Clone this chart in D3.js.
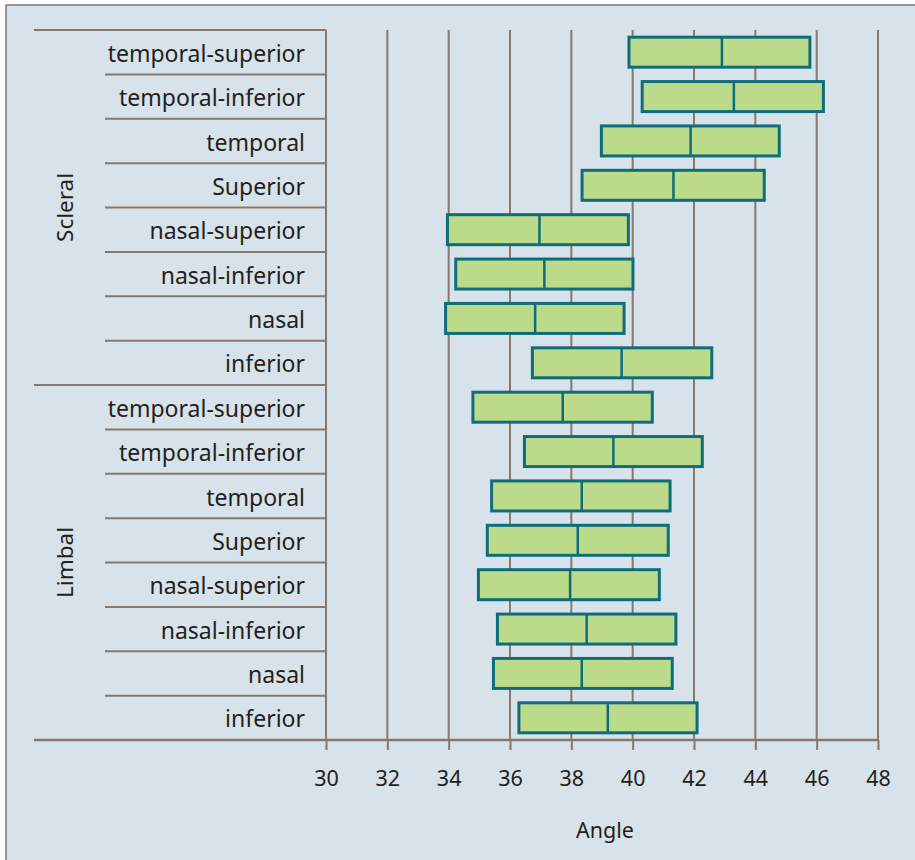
<!DOCTYPE html>
<html>
<head>
<meta charset="utf-8">
<script src="https://cdn.jsdelivr.net/npm/d3@7"></script>
<style>
  html, body { margin: 0; padding: 0; background: #ffffff; }
  svg { display: block; font-family: "Noto Sans", sans-serif; }
</style>
</head>
<body>
<div id="chart"></div>
<script>
// Data
const groups = ["Scleral", "Limbal"];
const sites = ["temporal-superior", "temporal-inferior", "temporal", "Superior",
               "nasal-superior", "nasal-inferior", "nasal", "inferior"];
const scleralLow    = [39.88, 40.31, 38.98, 38.35, 33.96, 34.23, 33.90, 36.73];
const scleralMedian = [42.91, 43.30, 41.89, 41.33, 36.96, 37.12, 36.82, 39.64];
const scleralHigh   = [45.78, 46.22, 44.78, 44.29, 39.86, 40.01, 39.72, 42.58];
const limbalLow     = [34.79, 36.47, 35.40, 35.26, 34.97, 35.59, 35.46, 36.29];
const limbalMedian  = [37.72, 39.37, 38.34, 38.21, 37.96, 38.50, 38.34, 39.19];
const limbalHigh    = [40.64, 42.27, 41.22, 41.16, 40.87, 41.41, 41.29, 42.10];
const xTicks = [30, 32, 34, 36, 38, 40, 42, 44, 46, 48];

// Build rows
const rows = [];
sites.forEach((s, i) => rows.push({ group: "Scleral", site: s, lo: scleralLow[i], med: scleralMedian[i], hi: scleralHigh[i] }));
sites.forEach((s, i) => rows.push({ group: "Limbal", site: s, lo: limbalLow[i], med: limbalMedian[i], hi: limbalHigh[i] }));
rows.forEach((r, i) => r.id = i);

const width = 915, height = 860;
const plotLeft = 326, plotRight = 878, plotTop = 30, plotBottom = 740;
const gridColor = "#85786f";
const textColor = "#231f20";

const svg = d3.select("#chart").append("svg")
    .attr("width", width)
    .attr("height", height);

// Background and frame
svg.append("rect")
    .attr("x", 6).attr("y", 5)
    .attr("width", width + 10).attr("height", height + 10)
    .attr("fill", "#d8e2ea")
    .attr("stroke", "#777")
    .attr("stroke-width", 1.5);

// Scales
const x = d3.scaleLinear().domain([30, 48]).range([plotLeft, plotRight]);
const y = d3.scaleBand().domain(rows.map(d => d.id)).range([plotTop, plotBottom]).padding(0);
const groupScale = d3.scaleBand().domain(groups).range([plotTop, plotBottom]);
const boxH = 30;

// Vertical grid lines
svg.append("g").selectAll("line")
    .data(xTicks)
    .join("line")
    .attr("x1", d => x(d)).attr("x2", d => x(d))
    .attr("y1", plotTop).attr("y2", plotBottom)
    .attr("stroke", gridColor).attr("stroke-width", 2);

// Row separators (left side)
svg.append("g").selectAll("line")
    .data(rows)
    .join("line")
    .attr("x1", d => (d.id % sites.length === 0) ? 34 : 105)
    .attr("x2", plotLeft)
    .attr("y1", d => y(d.id)).attr("y2", d => y(d.id))
    .attr("stroke", gridColor).attr("stroke-width", 2);

// X axis
const xAxis = d3.axisBottom(x).tickValues(xTicks).tickSize(10).tickPadding(21);
const axisG = svg.append("g")
    .attr("transform", `translate(0,${plotBottom})`)
    .call(xAxis);
axisG.select(".domain").remove();
axisG.selectAll(".tick line").attr("stroke", gridColor).attr("stroke-width", 2);
axisG.selectAll(".tick text")
    .attr("fill", textColor)
    .style("font-size", "21.5px")
    .style("font-family", "'Noto Sans', sans-serif");
svg.append("line")
    .attr("x1", 34).attr("x2", plotRight + 1)
    .attr("y1", plotBottom).attr("y2", plotBottom)
    .attr("stroke", gridColor).attr("stroke-width", 2.5);

// Axis title
svg.append("text")
    .attr("x", (plotLeft + plotRight) / 2 + 3)
    .attr("y", 838)
    .attr("text-anchor", "middle")
    .attr("fill", textColor)
    .style("font-size", "21.5px")
    .text("Angle");

// Row labels
svg.append("g").selectAll("text")
    .data(rows)
    .join("text")
    .attr("x", 305)
    .attr("y", d => y(d.id) + y.bandwidth() / 2)
    .attr("dy", "0.42em")
    .attr("text-anchor", "end")
    .attr("fill", textColor)
    .style("font-size", "23px")
    .text(d => d.site);

// Group labels
svg.append("g").selectAll("text")
    .data(groups)
    .join("text")
    .attr("transform", d => `translate(65,${groupScale(d) + groupScale.bandwidth() / 2}) rotate(-90)`)
    .attr("dy", "0.35em")
    .attr("text-anchor", "middle")
    .attr("fill", textColor)
    .style("font-size", "22.5px")
    .text(d => d);

// Boxes
const boxes = svg.append("g").selectAll("g")
    .data(rows)
    .join("g");

boxes.append("rect")
    .attr("x", d => x(d.lo))
    .attr("y", d => y(d.id) + (y.bandwidth() - boxH) / 2)
    .attr("width", d => x(d.hi) - x(d.lo))
    .attr("height", boxH)
    .attr("fill", "#bbda8a")
    .attr("stroke", "#0f6d7b")
    .attr("stroke-width", 3);

boxes.append("line")
    .attr("x1", d => x(d.med)).attr("x2", d => x(d.med))
    .attr("y1", d => y(d.id) + (y.bandwidth() - boxH) / 2)
    .attr("y2", d => y(d.id) + (y.bandwidth() + boxH) / 2)
    .attr("stroke", "#0f6d7b")
    .attr("stroke-width", 2.5);
</script>
</body>
</html>
